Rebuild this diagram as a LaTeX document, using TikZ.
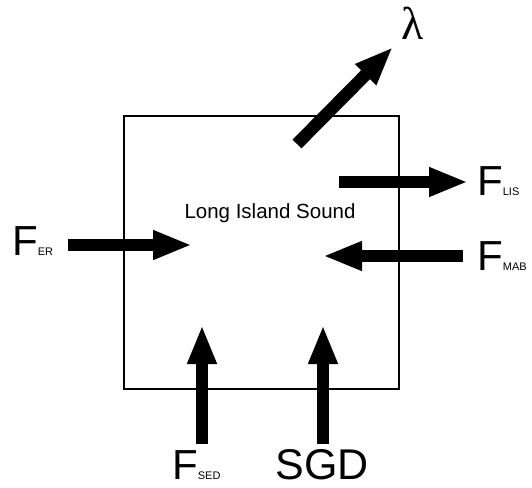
\documentclass[tikz,border=0pt]{standalone}
\usepackage{fontspec}
\setmainfont{Liberation Sans}
\newfontfamily\lamfont{Liberation Serif}
\usetikzlibrary{arrows.meta}

\newcommand{\flx}[1]{F\fontsize{11}{11}\selectfont #1}

\begin{document}
\begin{tikzpicture}[x=1pt,y=-1pt,
        flux/.style={line width=12.5pt,-{Triangle[length=39pt,width=27pt]}},
        lbl/.style={inner sep=0pt,text depth=0pt,anchor=base west,font=\fontsize{42}{42}\selectfont}]
        \useasboundingbox (0,0) rectangle (532,487);
        % control volume
        \node[draw,line width=1.4pt,minimum width=275pt,minimum height=273pt,inner sep=0pt] (sound) at (261.5,252.5) {};
        \node[inner sep=0pt,anchor=base,font=\fontsize{20.5}{20.5}\selectfont] (name) at (270,218) {Long Island Sound};
        % flux labels
        \node[lbl] (fer) at (12,255) {\flx{ER}};
        \node[lbl] (flis) at (477,195) {\flx{LIS}};
        \node[lbl] (fmab) at (477,270) {\flx{MAB}};
        \node[lbl] (fsed) at (172,479) {\flx{SED}};
        \node[lbl,anchor=base,font=\fontsize{43}{43}\selectfont] (sgd) at (322,479) {SGD};
        \node[inner sep=0pt,anchor=base,font=\lamfont\fontsize{46}{46}\selectfont] (lam) at (413,40) {λ};
        % arrow ends
        \coordinate (er-a) at (68,245);   \coordinate (er-b) at (192,245);
        \coordinate (lis-a) at (339,182); \coordinate (lis-b) at (468,182);
        \coordinate (mab-a) at (463,256); \coordinate (mab-b) at (323,256);
        \coordinate (sed-a) at (202,444); \coordinate (sed-b) at (202,325);
        \coordinate (sgd-a) at (323,444); \coordinate (sgd-b) at (323,325);
        \coordinate (lam-a) at (297,144); \coordinate (lam-b) at (393,47);
        % fluxes
        \foreach \p in {er,lis,mab,sed,sgd,lam}
            \draw[flux] (\p-a) -- (\p-b);
    \end{tikzpicture}
\end{document}
